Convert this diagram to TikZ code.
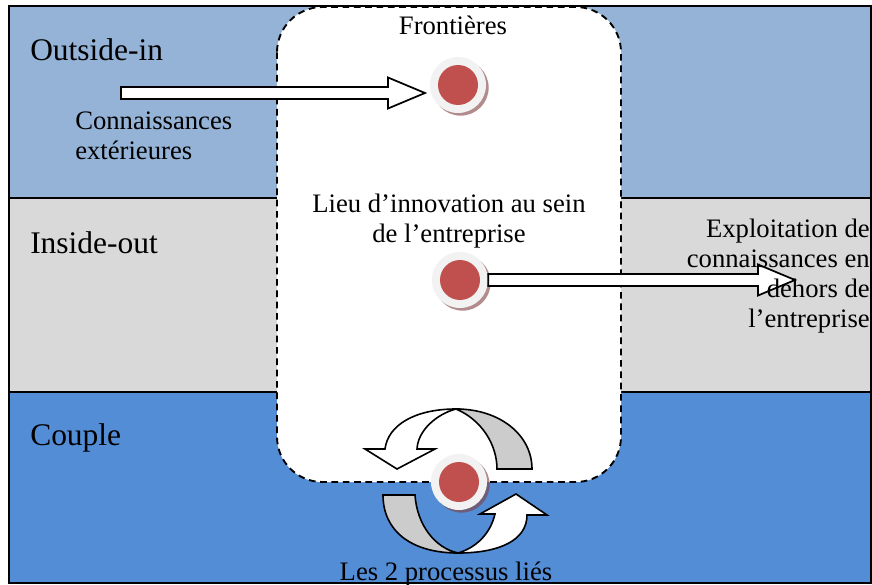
\documentclass[tikz,border=0pt]{standalone}
\usepackage{fontspec}
\setmainfont{Liberation Serif}
\usetikzlibrary{calc,shadows}

\definecolor{topblue}{HTML}{95B3D7}
\definecolor{midgray}{HTML}{D9D9D9}
\definecolor{lowblue}{HTML}{538DD5}
\definecolor{ringgray}{HTML}{F2F2F2}
\definecolor{dotred}{HTML}{C0504D}
\definecolor{shadowred}{HTML}{804040}
\definecolor{tailgray}{HTML}{CCCCCC}

\newcommand{\bandfont}{\fontsize{23.6}{28}\selectfont}
\newcommand{\bodyfont}{\fontsize{20}{22.5}\selectfont}

% horizontal block arrow, from #1 to the tip #2
\newcommand{\hblockarrow}[2]{%
  \draw[blockarrow] ($(#1)+(0,-6)$) -- ($(#1 -| #2)+(-37,-6)$) -- ($(#1 -| #2)+(-37,-15.5)$)
    -- (#1 -| #2) -- ($(#1 -| #2)+(-37,15.5)$) -- ($(#1 -| #2)+(-37,6)$) -- ($(#1)+(0,6)$) -- cycle;}

\begin{document}
\begin{tikzpicture}[x=0.75pt,y=0.75pt,yscale=-1,xscale=1,
  bandlabel/.style={inner sep=0pt,font=\bandfont},
  bodytext/.style={inner sep=0pt,font=\bodyfont},
  blockarrow/.style={draw=black,fill=white,line width=1.3pt},
  cyclewhite/.style={draw=black,fill=white,line width=1.2pt},
  cyclegray/.style={draw=black,fill=tailgray,line width=1.2pt},
  dot/.style={circle,inner sep=0pt,minimum size=42pt,fill=ringgray,
    drop shadow={shadow xshift=2pt,shadow yshift=-2pt,fill=shadowred,opacity=.6},
    path picture={\fill[dotred] (path picture bounding box.center) circle (15pt);}}]
\useasboundingbox (0,0) rectangle (872,585);

%Shape: bands
\fill[topblue] (9,6) rectangle (871,198);
\fill[midgray] (9,198) rectangle (871,392);
\fill[lowblue] (9,392) rectangle (871,583);
\draw[line width=0.9pt] (9,198) -- (871,198);
\draw[line width=0.9pt] (9,392) -- (871,392);

%Shape: Rounded frame (boundaries)
\draw[fill=white,line width=1.4pt,dash pattern={on 5pt off 3.5pt},rounded corners=34pt] (277,7) rectangle (621,482);

%Shape: outer border
\draw[line width=1.3pt] (9,6) rectangle (871,583);

% Dots
\node[dot] (c1) at (458,85) {};
\node[dot] (c2) at (460,280) {};
\node[dot] (c3) at (459,482) {};

% Block arrows
\coordinate (extA) at (121,93);
\coordinate (tipA) at (425,93);
\coordinate (extB) at (795,280);
\hblockarrow{extA}{tipA}
\hblockarrow{c2.east}{extB}

%Shape: upper circular arrow
\draw[cyclewhite] (385,449) .. controls (388,425) and (415,409) .. (456,409) .. controls (437,414) and (418,430) .. (417,449) -- (435,449) -- (397,469) -- (365,449) -- cycle;
\draw[cyclegray] (456,409) .. controls (500,409) and (532,435) .. (532,469) -- (497,469) .. controls (497,445) and (482,420) .. (456,409) -- cycle;
%Shape: lower circular arrow
\draw[cyclegray] (383,495) -- (415,495) .. controls (417,525) and (435,548) .. (458,553) .. controls (410,553) and (383,530) .. (383,495) -- cycle;
\draw[cyclewhite] (458,553) .. controls (500,553) and (527,540) .. (527,515) -- (547,515) -- (516,494) -- (480,514) -- (495,514) .. controls (490,535) and (475,548) .. (458,553) -- cycle;

% Text Node
\node[bandlabel,anchor=base west] (outin) at (30,61) {Outside-in};
% Text Node
\node[bandlabel,anchor=base west] (inout) at (30,253) {Inside-out};
% Text Node
\node[bandlabel,anchor=base west] (couple) at (30,445) {Couple};
% Text Node
\node[bodytext,anchor=base] (front) at (453,35) {Frontières};
% Text Node
\node[bodytext,anchor=north west,align=left] (conn) at (75,112) {Connaissances\\extérieures};
% Text Node
\node[bodytext,anchor=north,align=center] (lieu) at (449,194) {Lieu d’innovation au sein\\de l’entreprise};
% Text Node
\node[bodytext,anchor=north east,align=right] (exploit) at (870,219) {Exploitation de\\connaissances en\\dehors de\\l’entreprise};
% Text Node
\node[bodytext,anchor=base] (lies) at (446,580) {Les 2 processus liés};

\end{tikzpicture}
\end{document}
